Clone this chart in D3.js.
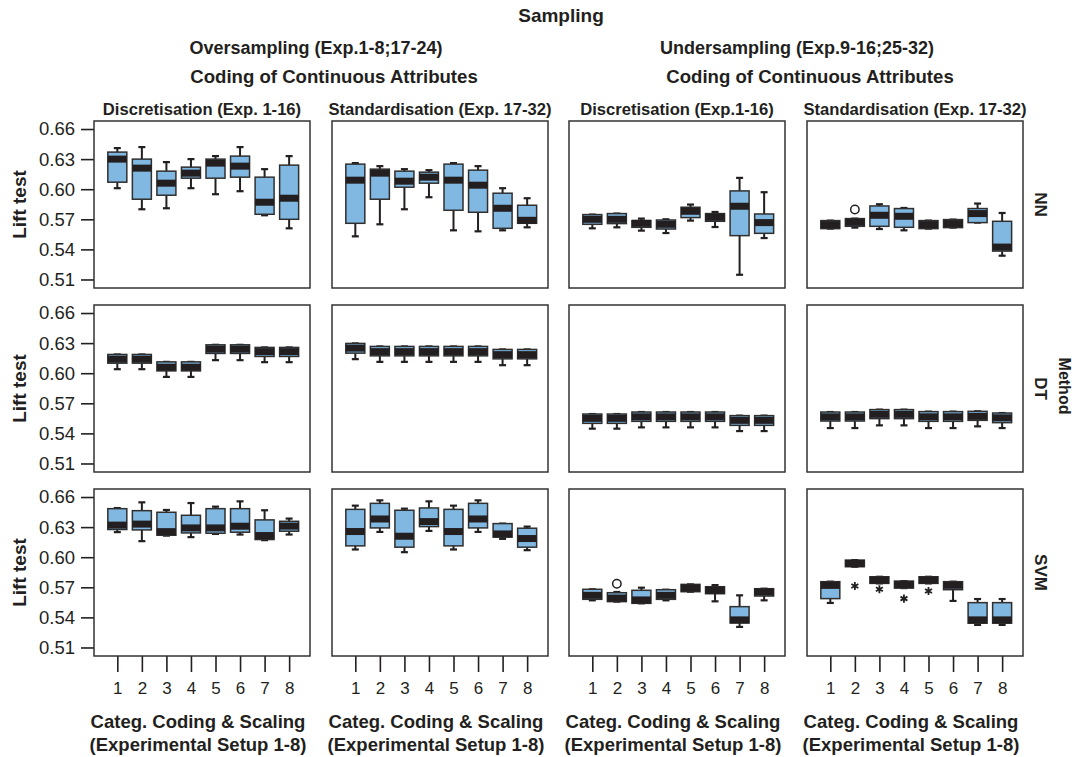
<!DOCTYPE html>
<html lang="en">
<head>
<meta charset="UTF-8">
<title>Lift test by sampling, coding and method</title>
<script src="https://cdnjs.cloudflare.com/ajax/libs/d3/7.8.5/d3.min.js"></script>
<style>
  body { margin: 0; background: #fff; }
  svg { font-family: "Liberation Sans", Arial, Helvetica, sans-serif; fill: #231f20; }
  .hdr { font-weight: bold; font-size: 18px; text-anchor: middle; }
  .ptitle { font-weight: bold; font-size: 16.6px; text-anchor: middle; }
  .tick text { font-size: 18.5px; fill: #231f20; font-family: "Liberation Sans", Arial, sans-serif; }
  .xax .tick text { font-size: 17px; }
  .tick line { stroke: #231f20; stroke-width: 1.6; }
</style>
</head>
<body>
<div id="chart"></div>
<script>
// experimental setups 1..8
const setups = [1, 2, 3, 4, 5, 6, 7, 8];
const yTicks = [0.51, 0.54, 0.57, 0.60, 0.63, 0.66];
const methods = ["NN", "DT", "SVM"];
const panelTitles = ["Discretisation (Exp. 1-16)", "Standardisation (Exp. 17-32)",
                     "Discretisation (Exp.1-16)", "Standardisation (Exp. 17-32)"];

// each box: [lower whisker, q1, median, q3, upper whisker]
const nnOverDisc = [
  [0.601, 0.607, 0.630, 0.637, 0.641], [0.580, 0.590, 0.621, 0.630, 0.642],
  [0.581, 0.594, 0.606, 0.618, 0.627], [0.601, 0.611, 0.616, 0.622, 0.630],
  [0.595, 0.611, 0.626, 0.630, 0.633], [0.598, 0.612, 0.623, 0.633, 0.642],
  [0.574, 0.575, 0.587, 0.612, 0.620], [0.561, 0.570, 0.591, 0.624, 0.633]];
const nnOverStd = [
  [0.553, 0.566, 0.609, 0.625, 0.626], [0.565, 0.590, 0.616, 0.620, 0.623],
  [0.580, 0.602, 0.608, 0.618, 0.620], [0.592, 0.606, 0.612, 0.617, 0.619],
  [0.559, 0.579, 0.609, 0.625, 0.626], [0.558, 0.577, 0.604, 0.619, 0.623],
  [0.559, 0.561, 0.581, 0.596, 0.601], [0.562, 0.566, 0.569, 0.584, 0.591]];
const nnUnderDisc = [
  [0.561, 0.565, 0.570, 0.5747, 0.5747], [0.562, 0.5657, 0.570, 0.5757, 0.5757],
  [0.5587, 0.562, 0.566, 0.5687, 0.5707], [0.5563, 0.5603, 0.565, 0.5693, 0.570],
  [0.5687, 0.5717, 0.578, 0.582, 0.5847], [0.5623, 0.568, 0.572, 0.5757, 0.5773],
  [0.5147, 0.5537, 0.583, 0.5983, 0.6113], [0.5513, 0.556, 0.5667, 0.5753, 0.597]];
const nnUnderStd = [
  [0.5607, 0.5607, 0.5647, 0.5687, 0.5687], [0.5617, 0.563, 0.567, 0.5707, 0.5707],
  [0.5603, 0.563, 0.574, 0.5833, 0.585], [0.559, 0.562, 0.573, 0.5807, 0.5813],
  [0.5607, 0.5607, 0.5647, 0.5687, 0.5687], [0.5617, 0.5617, 0.5657, 0.5697, 0.5697],
  [0.5667, 0.5667, 0.5757, 0.5807, 0.5857], [0.5337, 0.5383, 0.5423, 0.568, 0.5763]];

const dtOverDisc = [
  [0.604, 0.610, 0.614, 0.6187, 0.6187], [0.604, 0.610, 0.614, 0.6187, 0.6187],
  [0.5963, 0.6023, 0.606, 0.6113, 0.6113], [0.5963, 0.6023, 0.606, 0.6113, 0.6113],
  [0.613, 0.6197, 0.624, 0.6283, 0.6283], [0.613, 0.6197, 0.624, 0.6283, 0.6283],
  [0.611, 0.6167, 0.6215, 0.6257, 0.6257], [0.611, 0.6167, 0.6215, 0.6257, 0.6257]];
const dtOverStd = [
  [0.614, 0.620, 0.625, 0.6297, 0.6297], [0.6113, 0.6173, 0.6215, 0.6267, 0.6267],
  [0.6113, 0.6173, 0.6215, 0.6267, 0.6267], [0.6113, 0.6173, 0.6215, 0.6267, 0.6267],
  [0.6113, 0.6173, 0.6215, 0.6267, 0.6267], [0.6113, 0.6173, 0.6215, 0.6267, 0.6267],
  [0.608, 0.6143, 0.6185, 0.6237, 0.6237], [0.608, 0.6143, 0.6185, 0.6237, 0.6237]];
const dtUnderDisc = [
  [0.5447, 0.550, 0.555, 0.5593, 0.5593], [0.5447, 0.550, 0.555, 0.5593, 0.5593],
  [0.546, 0.552, 0.5565, 0.5613, 0.5613], [0.546, 0.552, 0.5565, 0.5613, 0.5613],
  [0.546, 0.552, 0.5565, 0.5613, 0.5613], [0.546, 0.552, 0.5565, 0.5613, 0.5613],
  [0.5423, 0.548, 0.553, 0.5577, 0.5577], [0.5423, 0.548, 0.553, 0.5577, 0.5577]];
const dtUnderStd = [
  [0.5453, 0.5523, 0.5565, 0.5613, 0.5613], [0.5453, 0.5523, 0.5565, 0.5613, 0.5613],
  [0.548, 0.5547, 0.559, 0.5637, 0.5637], [0.548, 0.5547, 0.559, 0.5637, 0.5637],
  [0.5453, 0.552, 0.5565, 0.5617, 0.5617], [0.5453, 0.552, 0.5565, 0.5617, 0.5617],
  [0.547, 0.553, 0.557, 0.562, 0.562], [0.5453, 0.5507, 0.5555, 0.5603, 0.5603]];

const svmOverDisc = [
  [0.625, 0.6276, 0.632, 0.6484, 0.649], [0.616, 0.6272, 0.633, 0.6464, 0.6547],
  [0.6215, 0.6219, 0.6255, 0.6448, 0.6471], [0.620, 0.6242, 0.6292, 0.6418, 0.654],
  [0.6232, 0.6239, 0.6292, 0.6484, 0.6504], [0.6226, 0.6249, 0.6309, 0.6484, 0.6557],
  [0.617, 0.6176, 0.6216, 0.6372, 0.6468], [0.6226, 0.6259, 0.631, 0.6358, 0.6385]];
const svmOverStd = [
  [0.6077, 0.6113, 0.6256, 0.6477, 0.6514], [0.6252, 0.6292, 0.6381, 0.6537, 0.6567],
  [0.605, 0.610, 0.6209, 0.6468, 0.6484], [0.6262, 0.6305, 0.6355, 0.6491, 0.6557],
  [0.6077, 0.6113, 0.6256, 0.6477, 0.6514], [0.6252, 0.6292, 0.6381, 0.6537, 0.6567],
  [0.6183, 0.620, 0.6232, 0.6335, 0.6335], [0.607, 0.610, 0.6186, 0.6289, 0.6305]];
const svmUnderDisc = [
  [0.557, 0.558, 0.562, 0.568, 0.568], [0.5557, 0.5557, 0.5593, 0.5646, 0.5653],
  [0.554, 0.554, 0.5574, 0.567, 0.5696], [0.557, 0.558, 0.562, 0.5676, 0.5676],
  [0.5656, 0.5656, 0.5693, 0.5729, 0.5729], [0.556, 0.5636, 0.567, 0.5706, 0.5722],
  [0.5305, 0.5344, 0.5375, 0.5507, 0.562], [0.557, 0.5613, 0.5653, 0.5686, 0.5686]];
const svmUnderStd = [
  [0.5544, 0.5587, 0.5719, 0.5756, 0.5756], [0.5905, 0.5905, 0.5938, 0.5971, 0.5971],
  [0.5739, 0.5739, 0.5772, 0.5805, 0.5805], [0.5692, 0.5692, 0.5727, 0.5762, 0.5762],
  [0.5739, 0.5739, 0.5772, 0.5805, 0.5805], [0.5564, 0.5676, 0.572, 0.5756, 0.5756],
  [0.5325, 0.5342, 0.5375, 0.5547, 0.5583], [0.5325, 0.5342, 0.5375, 0.5547, 0.5583]];

// outliers: [setup, value, kind]  o = outlier, * = extreme
const nnUnderStdOut = [[2, 0.5797, "o"]];
const svmUnderDiscOut = [[2, 0.5736, "o"]];
const svmUnderStdOut = [[2, 0.5713, "*"], [3, 0.568, "*"], [4, 0.5587, "*"], [5, 0.5663, "*"]];

const grid = [
  [nnOverDisc, nnOverStd, nnUnderDisc, nnUnderStd],
  [dtOverDisc, dtOverStd, dtUnderDisc, dtUnderStd],
  [svmOverDisc, svmOverStd, svmUnderDisc, svmUnderStd]];
const outGrid = [[[], [], [], nnUnderStdOut], [[], [], [], []], [[], [], svmUnderDiscOut, svmUnderStdOut]];

const W = 1075, H = 757;
const colX = [94, 332, 569, 807], panelW = 216;
const rowY = [121, 305, 489], panelH = 167;
const boxW = 19, medH = 7;
const ink = "#231f20", boxFill = "#80b8e1";

const svg = d3.select("#chart").append("svg").attr("width", W).attr("height", H);

const x = d3.scaleLinear().domain([0.05, 8.85]).range([0, panelW]);
const y = d3.scaleLinear().domain([0.5015, 0.668]).range([panelH, 0]);

// headers
svg.append("text").attr("class", "hdr").attr("x", 561).attr("y", 22).style("font-size", "19px").text("Sampling");
[[316, 334, "Oversampling (Exp.1-8;17-24)"], [797, 810, "Undersampling (Exp.9-16;25-32)"]].forEach(([cx, cx2, t]) => {
  svg.append("text").attr("class", "hdr").attr("x", cx).attr("y", 54).text(t);
  svg.append("text").attr("class", "hdr").attr("x", cx2).attr("y", 83).style("font-size", "18.6px")
    .text("Coding of Continuous Attributes");
});

grid.forEach((row, r) => {
  row.forEach((boxes, c) => {
    const g = svg.append("g").attr("transform", `translate(${colX[c]},${rowY[r]})`);

    if (r === 0) {
      g.append("text").attr("class", "ptitle").attr("x", panelW / 2).attr("y", -6).text(panelTitles[c]);
    }

    if (c === 0) {
      g.append("g").call(d3.axisLeft(y).tickValues(yTicks).tickFormat(d3.format(".2f")).tickSize(13).tickPadding(6))
        .call(a => a.select(".domain").remove());
      g.append("text").attr("transform", `translate(-68,${panelH / 2}) rotate(-90)`)
        .attr("text-anchor", "middle").attr("font-weight", "bold").attr("font-size", 19).text("Lift test");
    }

    if (r === 2) {
      g.append("g").attr("class", "xax").attr("transform", `translate(0,${panelH})`)
        .call(d3.axisBottom(x).tickValues(setups).tickFormat(d3.format("d")).tickSize(16).tickPadding(10))
        .call(a => a.select(".domain").remove());
      g.append("text").attr("x", panelW / 2 - 4).attr("y", panelH + 72).attr("text-anchor", "middle")
        .attr("font-weight", "bold").attr("font-size", 18.5).text("Categ. Coding & Scaling");
      g.append("text").attr("x", panelW / 2 - 4).attr("y", panelH + 95).attr("text-anchor", "middle")
        .attr("font-weight", "bold").attr("font-size", 18.5).text("(Experimental Setup 1-8)");
    }

    const b = g.selectAll(".box").data(boxes).enter().append("g")
      .attr("transform", (d, i) => `translate(${x(setups[i])},0)`);

    // whiskers
    b.append("line").attr("y1", d => y(d[0])).attr("y2", d => y(d[1]))
      .attr("stroke", ink).attr("stroke-width", 2);
    b.append("line").attr("y1", d => y(d[3])).attr("y2", d => y(d[4]))
      .attr("stroke", ink).attr("stroke-width", 2);
    b.append("line").attr("x1", -3.5).attr("x2", 3.5).attr("y1", d => y(d[0])).attr("y2", d => y(d[0]))
      .attr("stroke", ink).attr("stroke-width", 2.2);
    b.append("line").attr("x1", -3.5).attr("x2", 3.5).attr("y1", d => y(d[4])).attr("y2", d => y(d[4]))
      .attr("stroke", ink).attr("stroke-width", 2.2);

    // box
    b.append("rect").attr("x", -boxW / 2).attr("width", boxW)
      .attr("y", d => y(d[3])).attr("height", d => Math.max(1, y(d[1]) - y(d[3])))
      .attr("fill", boxFill).attr("stroke", "#2f2f2f").attr("stroke-width", 1.5);

    // median band
    b.append("rect").attr("x", -boxW / 2).attr("width", boxW)
      .attr("y", d => y(d[2]) - medH / 2).attr("height", medH).attr("fill", ink);

    // outliers
    outGrid[r][c].forEach(([s, v, k]) => {
      if (k === "o") {
        g.append("circle").attr("cx", x(s)).attr("cy", y(v)).attr("r", 4.2)
          .attr("fill", "none").attr("stroke", ink).attr("stroke-width", 1.5);
      } else {
        g.append("path").attr("transform", `translate(${x(s)},${y(v)})`)
          .attr("d", d3.symbol(d3.symbolAsterisk, 45)()).attr("stroke", ink).attr("stroke-width", 1.8).attr("fill", "none");
      }
    });

    // panel frame
    g.append("rect").attr("width", panelW).attr("height", panelH)
      .attr("fill", "none").attr("stroke", "#333").attr("stroke-width", 1.5);

    if (c === 3) {
      g.append("text").attr("transform", `translate(${panelW + 12},${panelH / 2}) rotate(90)`)
        .attr("text-anchor", "middle").attr("font-weight", "bold").attr("font-size", 17).text(methods[r]);
    }
  });
});

svg.append("text").attr("transform", "translate(1059,386) rotate(90)")
  .attr("text-anchor", "middle").attr("font-weight", "bold").attr("font-size", 16).text("Method");
</script>
</body>
</html>
